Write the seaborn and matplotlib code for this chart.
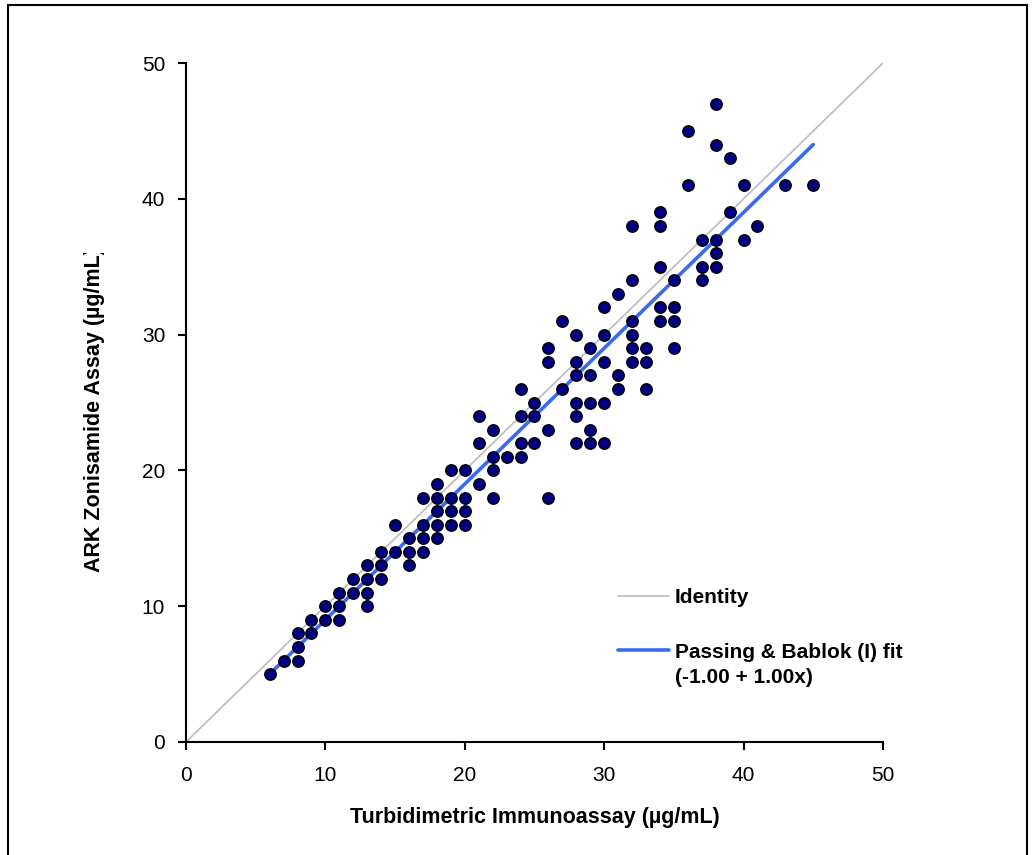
import matplotlib
matplotlib.use('Agg')
import matplotlib.pyplot as plt
import seaborn as sns
import pandas as pd
from matplotlib.patches import Rectangle
from matplotlib.transforms import Bbox

# method comparison data
turbidimetric = [6, 7, 8, 8, 8, 9, 9, 10, 10, 11, 11, 11, 12, 12,
                 13, 13, 13, 13, 14, 14, 14, 15, 15, 16, 16, 16,
                 17, 17, 17, 17, 18, 18, 18, 18, 18, 19, 19, 19, 19,
                 20, 20, 20, 20, 21, 21, 21, 22, 22, 22, 22, 23,
                 24, 24, 24, 24, 25, 25, 25, 26, 26, 26, 26, 27, 27,
                 28, 28, 28, 28, 28, 28, 29, 29, 29, 29, 29,
                 30, 30, 30, 30, 30, 31, 31, 31, 32, 32, 32, 32, 32, 32,
                 33, 33, 33, 34, 34, 34, 34, 34, 35, 35, 35, 35,
                 36, 36, 37, 37, 37, 38, 38, 38, 38, 38, 39, 39,
                 40, 40, 41, 43, 45]
ark = [5, 6, 6, 7, 8, 8, 9, 9, 10, 9, 10, 11, 11, 12,
       10, 11, 12, 13, 12, 13, 14, 14, 16, 13, 14, 15,
       14, 15, 16, 18, 15, 16, 17, 18, 19, 16, 17, 18, 20,
       16, 17, 18, 20, 19, 22, 24, 18, 20, 21, 23, 21,
       21, 22, 24, 26, 22, 24, 25, 18, 23, 28, 29, 26, 31,
       22, 24, 25, 27, 28, 30, 22, 23, 25, 27, 29,
       22, 25, 28, 30, 32, 26, 27, 33, 28, 29, 30, 31, 34, 38,
       26, 28, 29, 31, 32, 35, 38, 39, 29, 31, 32, 34,
       41, 45, 34, 35, 37, 35, 36, 37, 44, 47, 39, 43,
       37, 41, 38, 41, 41]

identity_x = [0, 50]
fit_range = [6, 45]
fit_intercept = -1.00
fit_slope = 1.00

df = pd.DataFrame({'turb': turbidimetric, 'ark': ark})
df_id = pd.DataFrame({'x': identity_x, 'y': identity_x})
df_fit = pd.DataFrame({'x': fit_range,
                       'y': [fit_intercept + fit_slope * v for v in fit_range]})

sns.set_style('white')
plt.rcParams['font.family'] = ['Liberation Sans', 'DejaVu Sans']
plt.rcParams['text.color'] = 'black'
plt.rcParams['xtick.color'] = 'black'
plt.rcParams['ytick.color'] = 'black'
plt.rcParams['axes.labelcolor'] = 'black'

fig = plt.figure(figsize=(10.34, 8.55), dpi=100)
ax = fig.add_axes([0.1799, 0.1322, 0.674, 0.794])

sns.lineplot(x='x', y='y', data=df_id, ax=ax, color='#c0c0c0', linewidth=1.3,
             label='Identity')
sns.lineplot(x='x', y='y', data=df_fit, ax=ax, color='#3a6af0', linewidth=2.6,
             label='Passing & Bablok (I) fit')
sns.scatterplot(x='turb', y='ark', data=df, ax=ax, color='#000080',
                edgecolor='black', linewidth=1.0, s=68, zorder=3, legend=False)

ax.set_xlim(0, 50)
ax.set_ylim(0, 50)
ax.set_xticks(range(0, 51, 10))
ax.set_yticks(range(0, 51, 10))
ax.tick_params(axis='both', direction='out', length=5.5, width=1.5, labelsize=15,
               left=True, bottom=True, color='black', pad=9.5)
ax.tick_params(axis='x', pad=11.5)
for side in ['top', 'right']:
    ax.spines[side].set_visible(False)
for side in ['left', 'bottom']:
    ax.spines[side].set_color('black')
    ax.spines[side].set_linewidth(1.5)

ax.set_xlabel('Turbidimetric Immunoassay (µg/mL)', fontsize=15.5, fontweight='bold',
              labelpad=16)
ylab = ax.set_ylabel('ARK Zonisamide Assay (µg/mL)', fontsize=15.5, fontweight='bold')
ax.yaxis.set_label_coords(-0.116, 0.49)
# the reference title box cuts off the closing bracket
ylab.set_clip_box(Bbox([[0, 0], [1034, 855 - 253]]))
ylab.set_clip_on(True)

leg = ax.legend(loc='upper left', bbox_to_anchor=(0.5925, 0.254), frameon=False,
                handlelength=2.45, handletextpad=0.3, labelspacing=1.7,
                prop={'size': 15, 'weight': 'bold'})

# second line of the fit label, placed under the legend entry text
fig.canvas.draw()
bb = leg.get_texts()[1].get_window_extent()
fig.text(bb.x0 / 1034, (bb.y0 - 6) / 855, '(-1.00 + 1.00x)', fontsize=15,
         fontweight='bold', ha='left', va='top')

# outer chart border
fig.patches.append(Rectangle((8 / 1034, -0.05), 1019 / 1034, 1.05 - 5 / 855,
                             transform=fig.transFigure, fill=False,
                             edgecolor='black', linewidth=1.5, clip_on=False))

fig.savefig('out.png', dpi=100)
